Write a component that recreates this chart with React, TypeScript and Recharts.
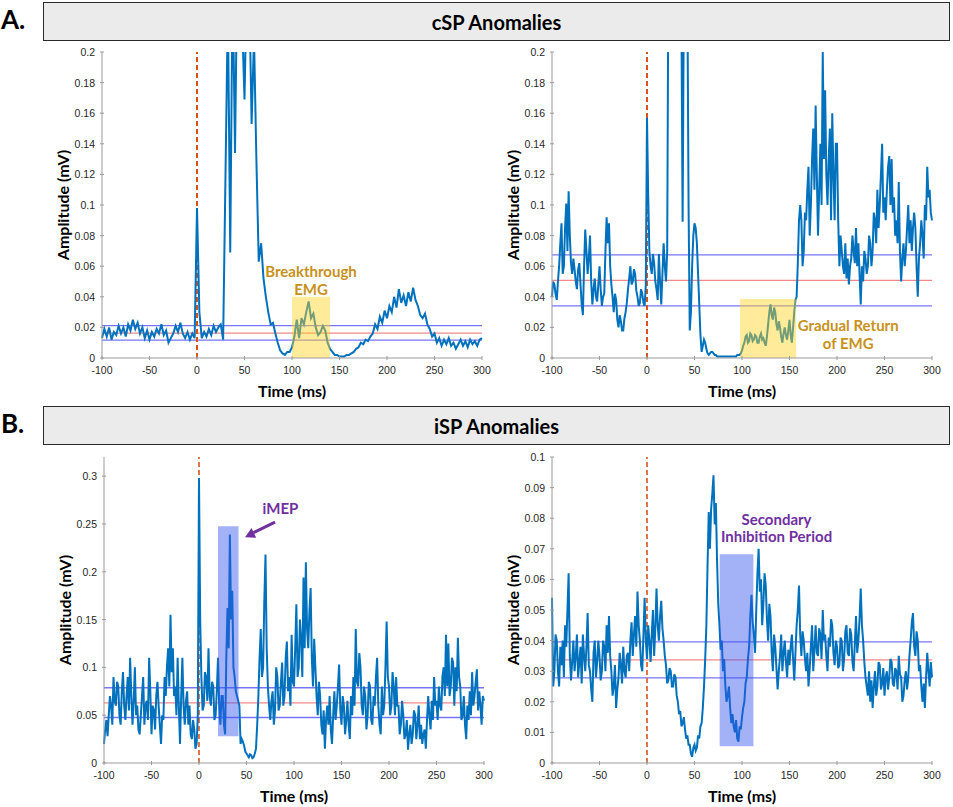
import { LineChart, Line, XAxis, YAxis, ReferenceLine, ReferenceArea, Label } from "recharts";

// time bases: 2.5 ms and 1.25 ms per sample
const timeCoarse = Array.from({ length: 161 }, (_, i) => -100 + i * 2.5);
const timeFine = Array.from({ length: 321 }, (_, i) => -100 + i * 1.25);
const timeTicks = [-100, -50, 0, 50, 100, 150, 200, 250, 300];

// A. cSP anomalies, left trace (breakthrough EMG), 2.5 ms steps
const cspBreakthrough = [
  0.013, 0.019, 0.014, 0.020, 0.012, 0.017, 0.015, 0.021, 0.016, 0.020,
  0.014, 0.022, 0.018, 0.025, 0.019, 0.023, 0.016, 0.020, 0.013, 0.018,
  0.012, 0.017, 0.014, 0.019, 0.016, 0.022, 0.015, 0.018, 0.010, 0.013,
  0.016, 0.021, 0.017, 0.023, 0.016, 0.013, 0.017, 0.012, 0.016, 0.013,
  0.098, 0.030, 0.013, 0.017, 0.014, 0.019, 0.015, 0.021, 0.017, 0.020,
  0.022, 0.012, 0.120, 0.230, 0.069, 0.250, 0.134, 0.260, 0.240, 0.220,
  0.169, 0.250, 0.240, 0.153, 0.210, 0.130, 0.063, 0.075, 0.052, 0.040,
  0.030, 0.022, 0.023, 0.016, 0.010, 0.005, 0.003, 0.002, 0.004, 0.004,
  0.007, 0.014, 0.025, 0.013, 0.026, 0.022, 0.030, 0.037, 0.026, 0.029,
  0.020, 0.015, 0.017, 0.021, 0.018, 0.010, 0.006, 0.004, 0.002, 0.002,
  0.001, 0.001, 0.001, 0.002, 0.002, 0.003, 0.004, 0.006, 0.007, 0.010,
  0.009, 0.012, 0.011, 0.014, 0.016, 0.022, 0.019, 0.027, 0.023, 0.031,
  0.026, 0.034, 0.030, 0.040, 0.033, 0.045, 0.036, 0.041, 0.034, 0.043,
  0.037, 0.046, 0.038, 0.034, 0.028, 0.026, 0.029, 0.022, 0.019, 0.014,
  0.016, 0.010, 0.013, 0.008, 0.012, 0.009, 0.013, 0.008, 0.010, 0.006,
  0.009, 0.012, 0.008, 0.011, 0.007, 0.012, 0.009, 0.011, 0.008, 0.012,
  0.013,
];

// A. cSP anomalies, right trace (gradual return), 1.25 ms steps
const cspGradual = [
  0.040, 0.050, 0.048, 0.042, 0.038, 0.050, 0.060, 0.075, 0.088, 0.055, 0.060, 0.085, 0.101, 0.070, 0.109, 0.080, 0.062, 0.055, 0.065, 0.058,
  0.050, 0.045, 0.058, 0.062, 0.048, 0.035, 0.028, 0.060, 0.084, 0.070, 0.055, 0.065, 0.080, 0.050, 0.035, 0.045, 0.052, 0.040, 0.037, 0.048,
  0.060, 0.045, 0.034, 0.040, 0.042, 0.070, 0.092, 0.075, 0.088, 0.060, 0.048, 0.040, 0.030, 0.042, 0.038, 0.025, 0.020, 0.028, 0.024, 0.018,
  0.018, 0.026, 0.030, 0.036, 0.045, 0.052, 0.060, 0.048, 0.050, 0.058, 0.055, 0.044, 0.040, 0.034, 0.036, 0.045, 0.042, 0.036, 0.034, 0.048,
  0.157, 0.107, 0.070, 0.060, 0.055, 0.068, 0.062, 0.050, 0.045, 0.038, 0.068, 0.050, 0.035, 0.055, 0.075, 0.060, 0.050, 0.070, 0.250, 0.260,
  0.260, 0.250, 0.250, 0.260, 0.260, 0.250, 0.250, 0.260, 0.240, 0.220, 0.089, 0.230, 0.250, 0.260, 0.240, 0.100, 0.018, 0.030, 0.060, 0.080,
  0.088, 0.085, 0.075, 0.055, 0.035, 0.015, 0.004, 0.008, 0.012, 0.010, 0.006, 0.003, 0.002, 0.003, 0.004, 0.004, 0.003, 0.002, 0.002, 0.001,
  0.001, 0.001, 0.001, 0.001, 0.001, 0.001, 0.001, 0.001, 0.001, 0.001, 0.001, 0.001, 0.001, 0.001, 0.001, 0.001, 0.002, 0.002, 0.002, 0.003,
  0.005, 0.008, 0.010, 0.014, 0.015, 0.010, 0.011, 0.016, 0.015, 0.011, 0.012, 0.015, 0.014, 0.010, 0.010, 0.014, 0.016, 0.012, 0.013, 0.010,
  0.008, 0.014, 0.022, 0.030, 0.035, 0.028, 0.025, 0.033, 0.030, 0.022, 0.018, 0.024, 0.020, 0.014, 0.010, 0.016, 0.020, 0.015, 0.012, 0.018,
  0.025, 0.015, 0.010, 0.020, 0.030, 0.038, 0.040, 0.062, 0.090, 0.100, 0.090, 0.060, 0.070, 0.095, 0.090, 0.110, 0.125, 0.080, 0.100, 0.130,
  0.150, 0.110, 0.165, 0.120, 0.080, 0.110, 0.140, 0.100, 0.200, 0.130, 0.175, 0.120, 0.100, 0.130, 0.150, 0.090, 0.160, 0.120, 0.090, 0.140,
  0.140, 0.090, 0.060, 0.080, 0.070, 0.060, 0.055, 0.075, 0.052, 0.065, 0.048, 0.060, 0.065, 0.080, 0.070, 0.062, 0.085, 0.060, 0.075, 0.055,
  0.035, 0.060, 0.050, 0.070, 0.065, 0.055, 0.060, 0.080, 0.075, 0.060, 0.070, 0.095, 0.090, 0.075, 0.110, 0.085, 0.100, 0.120, 0.140, 0.095,
  0.105, 0.090, 0.110, 0.125, 0.132, 0.100, 0.130, 0.095, 0.105, 0.080, 0.090, 0.075, 0.115, 0.070, 0.050, 0.065, 0.075, 0.060, 0.070, 0.085,
  0.100, 0.075, 0.090, 0.070, 0.085, 0.095, 0.085, 0.060, 0.040, 0.065, 0.075, 0.090, 0.080, 0.065, 0.100, 0.090, 0.125, 0.105, 0.110, 0.095,
  0.090,
];

// B. iSP anomalies, left trace (iMEP), 1.25 ms steps
const ispMep = [
  0.020, 0.035, 0.045, 0.028, 0.050, 0.070, 0.060, 0.040, 0.090, 0.065, 0.060, 0.085, 0.080, 0.050, 0.040, 0.075, 0.095, 0.060, 0.045, 0.070,
  0.090, 0.055, 0.110, 0.070, 0.040, 0.065, 0.100, 0.050, 0.060, 0.035, 0.030, 0.050, 0.070, 0.090, 0.040, 0.060, 0.065, 0.045, 0.110, 0.075,
  0.030, 0.060, 0.055, 0.035, 0.070, 0.085, 0.060, 0.040, 0.020, 0.050, 0.045, 0.090, 0.070, 0.100, 0.120, 0.080, 0.155, 0.095, 0.120, 0.070,
  0.080, 0.050, 0.110, 0.060, 0.020, 0.070, 0.110, 0.060, 0.040, 0.065, 0.075, 0.040, 0.060, 0.030, 0.025, 0.045, 0.035, 0.015, 0.020, 0.050,
  0.298, 0.150, 0.090, 0.055, 0.060, 0.095, 0.090, 0.065, 0.120, 0.070, 0.060, 0.085, 0.080, 0.045, 0.050, 0.075, 0.110, 0.060, 0.040, 0.070,
  0.070, 0.040, 0.030, 0.110, 0.162, 0.120, 0.239, 0.150, 0.180, 0.100, 0.090, 0.075, 0.070, 0.065, 0.060, 0.020, 0.025, 0.022, 0.018, 0.012,
  0.010, 0.008, 0.006, 0.009, 0.008, 0.005, 0.006, 0.010, 0.015, 0.040, 0.070, 0.110, 0.140, 0.090, 0.100, 0.170, 0.218, 0.120, 0.080, 0.060,
  0.045, 0.065, 0.075, 0.040, 0.055, 0.100, 0.090, 0.055, 0.060, 0.085, 0.105, 0.060, 0.070, 0.110, 0.127, 0.075, 0.090, 0.060, 0.134, 0.085,
  0.080, 0.120, 0.166, 0.090, 0.100, 0.150, 0.130, 0.090, 0.194, 0.120, 0.210, 0.140, 0.120, 0.160, 0.183, 0.110, 0.080, 0.130, 0.100, 0.070,
  0.050, 0.085, 0.070, 0.040, 0.030, 0.055, 0.015, 0.045, 0.060, 0.040, 0.070, 0.035, 0.020, 0.050, 0.075, 0.045, 0.060, 0.080, 0.103, 0.055,
  0.040, 0.070, 0.060, 0.030, 0.045, 0.065, 0.040, 0.025, 0.070, 0.050, 0.090, 0.060, 0.140, 0.085, 0.080, 0.115, 0.100, 0.060, 0.050, 0.080,
  0.070, 0.035, 0.050, 0.085, 0.080, 0.045, 0.040, 0.070, 0.060, 0.090, 0.110, 0.060, 0.040, 0.030, 0.080, 0.050, 0.060, 0.100, 0.148, 0.090,
  0.080, 0.050, 0.060, 0.095, 0.080, 0.050, 0.090, 0.060, 0.060, 0.030, 0.040, 0.065, 0.050, 0.025, 0.030, 0.045, 0.014, 0.030, 0.040, 0.020,
  0.030, 0.055, 0.050, 0.025, 0.040, 0.060, 0.025, 0.040, 0.020, 0.030, 0.035, 0.015, 0.045, 0.070, 0.050, 0.035, 0.065, 0.045, 0.090, 0.060,
  0.065, 0.045, 0.080, 0.060, 0.055, 0.090, 0.100, 0.070, 0.134, 0.080, 0.125, 0.070, 0.080, 0.110, 0.105, 0.060, 0.100, 0.075, 0.131, 0.090,
  0.080, 0.045, 0.050, 0.070, 0.040, 0.025, 0.060, 0.045, 0.075, 0.050, 0.095, 0.060, 0.070, 0.085, 0.098, 0.055, 0.075, 0.060, 0.040, 0.070,
  0.065,
];

// B. iSP anomalies, right trace (secondary inhibition), 1.25 ms steps
const ispSecondary = [
  0.054, 0.025, 0.030, 0.042, 0.040, 0.030, 0.025, 0.038, 0.032, 0.040, 0.028, 0.045, 0.038, 0.050, 0.062, 0.035, 0.027, 0.033, 0.040, 0.030,
  0.035, 0.042, 0.028, 0.033, 0.038, 0.026, 0.042, 0.035, 0.030, 0.038, 0.049, 0.032, 0.030, 0.024, 0.020, 0.036, 0.040, 0.028, 0.033, 0.040,
  0.035, 0.027, 0.030, 0.040, 0.038, 0.030, 0.045, 0.036, 0.048, 0.035, 0.030, 0.022, 0.025, 0.032, 0.018, 0.024, 0.028, 0.036, 0.032, 0.026,
  0.038, 0.030, 0.028, 0.035, 0.036, 0.030, 0.040, 0.046, 0.035, 0.042, 0.048, 0.038, 0.056, 0.045, 0.040, 0.032, 0.030, 0.042, 0.054, 0.040,
  0.034, 0.045, 0.040, 0.033, 0.042, 0.050, 0.035, 0.044, 0.057, 0.045, 0.040, 0.048, 0.053, 0.044, 0.040, 0.035, 0.032, 0.026, 0.027, 0.031,
  0.030, 0.025, 0.025, 0.029, 0.028, 0.022, 0.020, 0.016, 0.017, 0.012, 0.013, 0.015, 0.011, 0.008, 0.009, 0.006, 0.006, 0.003, 0.002, 0.005,
  0.006, 0.004, 0.005, 0.009, 0.008, 0.012, 0.013, 0.018, 0.025, 0.034, 0.045, 0.065, 0.082, 0.070, 0.083, 0.088, 0.094, 0.078, 0.085, 0.066,
  0.052, 0.045, 0.037, 0.040, 0.030, 0.034, 0.025, 0.020, 0.022, 0.025, 0.018, 0.013, 0.016, 0.012, 0.010, 0.014, 0.008, 0.007, 0.012, 0.011,
  0.015, 0.018, 0.020, 0.026, 0.028, 0.034, 0.038, 0.048, 0.055, 0.046, 0.042, 0.036, 0.050, 0.062, 0.070, 0.056, 0.060, 0.045, 0.052, 0.062,
  0.058, 0.047, 0.040, 0.052, 0.048, 0.036, 0.030, 0.042, 0.038, 0.031, 0.024, 0.030, 0.035, 0.042, 0.030, 0.036, 0.040, 0.033, 0.028, 0.037,
  0.032, 0.038, 0.042, 0.034, 0.027, 0.036, 0.045, 0.050, 0.058, 0.042, 0.035, 0.043, 0.040, 0.034, 0.030, 0.036, 0.025, 0.031, 0.038, 0.045,
  0.030, 0.037, 0.045, 0.036, 0.035, 0.044, 0.042, 0.034, 0.050, 0.040, 0.042, 0.035, 0.030, 0.041, 0.038, 0.047, 0.045, 0.036, 0.032, 0.040,
  0.038, 0.031, 0.032, 0.041, 0.040, 0.030, 0.034, 0.043, 0.045, 0.036, 0.035, 0.044, 0.042, 0.033, 0.030, 0.039, 0.048, 0.036, 0.040, 0.047,
  0.057, 0.045, 0.040, 0.033, 0.028, 0.025, 0.022, 0.030, 0.020, 0.027, 0.018, 0.025, 0.030, 0.022, 0.025, 0.033, 0.032, 0.024, 0.026, 0.031,
  0.022, 0.028, 0.030, 0.024, 0.028, 0.034, 0.033, 0.026, 0.025, 0.031, 0.030, 0.024, 0.035, 0.029, 0.028, 0.020, 0.022, 0.027, 0.030, 0.024,
  0.028, 0.035, 0.040, 0.046, 0.049, 0.038, 0.035, 0.043, 0.040, 0.030, 0.032, 0.025, 0.020, 0.026, 0.018, 0.028, 0.036, 0.030, 0.025, 0.033,
  0.028,
];

// baseline bands: upper, mean, lower
const cspBreakthroughBands = [0.0211, 0.0163, 0.0117];
const cspGradualBands = [0.0674, 0.0507, 0.0341];
const ispMepBands = [0.0787, 0.0629, 0.0476];
const ispSecondaryBands = [0.0396, 0.0337, 0.0278];

const cspTicks = [0, 0.02, 0.04, 0.06, 0.08, 0.1, 0.12, 0.14, 0.16, 0.18, 0.2];
const ispMepTicks = [0, 0.05, 0.1, 0.15, 0.2, 0.25, 0.3];
const ispSecondaryTicks = [0, 0.01, 0.02, 0.03, 0.04, 0.05, 0.06, 0.07, 0.08, 0.09, 0.1];

const AXIS = "#9b9b9b";
const TRACE = "#0072BD";
const BLUE_BAND = "#4848f0";
const RED_BAND = "#f06060";
const GOLD = "#C8911A";
const PURPLE = "#7030A0";
const TICK_LEN = 4;
const tickFont = { fontFamily: "'Liberation Sans', Arial, sans-serif", fontSize: 10.5, fill: "#262626" };
const boldFont = "Lato, 'Open Sans', sans-serif";

function BottomTick(props: any) {
  const { x, y, payload } = props;
  return (
    <g>
      <line x1={x} y1={y} x2={x} y2={y - TICK_LEN} stroke={AXIS} />
      <text x={x} y={y + 14} textAnchor="middle" {...tickFont}>{payload.value}</text>
    </g>
  );
}

function TopTick(props: any) {
  const { x, y } = props;
  return <line x1={x} y1={y} x2={x} y2={y + TICK_LEN} stroke={AXIS} />;
}

function LeftTick(props: any) {
  const { x, y, payload } = props;
  return (
    <g>
      <line x1={x} y1={y} x2={x + TICK_LEN} y2={y} stroke={AXIS} />
      <text x={x - 5} y={y + 4} textAnchor="end" {...tickFont}>{payload.value}</text>
    </g>
  );
}

function RightTick(props: any) {
  const { x, y } = props;
  return <line x1={x} y1={y} x2={x - TICK_LEN} y2={y} stroke={AXIS} />;
}

function timeLabel(props: any) {
  const vb = props.viewBox;
  return (
    <text x={vb.x + vb.width / 2} y={vb.y + 39} textAnchor="middle" fontFamily={boldFont} fontWeight={700} fontSize={16} fill="#000">
      Time (ms)
    </text>
  );
}

function ampLabel(props: any) {
  const vb = props.viewBox;
  const cx = vb.x + 13;
  const cy = vb.y + vb.height / 2;
  return (
    <text x={cx} y={cy} transform={`rotate(-90 ${cx} ${cy})`} textAnchor="middle" dominantBaseline="middle"
      fontFamily={boldFont} fontWeight={700} fontSize={16} fill="#000">
      Amplitude (mV)
    </text>
  );
}

const noteStyle = { fontFamily: boldFont, fontWeight: 700, fontSize: 15 };

function breakthroughNote(props: any) {
  const { x, y, width } = props.viewBox;
  const cx = x + width / 2;
  return (
    <text textAnchor="middle" fill={GOLD} style={noteStyle}>
      <tspan x={cx} y={y - 20}>Breakthrough</tspan>
      <tspan x={cx} y={y - 2}>EMG</tspan>
    </text>
  );
}

function gradualNote(props: any) {
  const { x, y, width, height } = props.viewBox;
  const cx = x + width + 52;
  const bottom = y + height;
  return (
    <text textAnchor="middle" fill={GOLD} style={noteStyle}>
      <tspan x={cx} y={bottom - 27}>Gradual Return</tspan>
      <tspan x={cx} y={bottom - 9}>of EMG</tspan>
    </text>
  );
}

function mepNote(props: any) {
  const { x, y, width } = props.viewBox;
  const r = x + width;
  return (
    <g>
      <text x={r + 42} y={y - 12} textAnchor="middle" fill={PURPLE} style={noteStyle}>iMEP</text>
      <line x1={r + 36.5} y1={y - 4} x2={r + 15} y2={y + 6.5} stroke={PURPLE} strokeWidth={3} />
      <polygon points={`${r + 6.5},${y + 11} ${r + 17.7},${y + 11.5} ${r + 13},${y + 1.8}`} fill={PURPLE} />
    </g>
  );
}

function secondaryNote(props: any) {
  const { x, y, width } = props.viewBox;
  const cx = x + width / 2 + 40;
  return (
    <text textAnchor="middle" fill={PURPLE} style={noteStyle}>
      <tspan x={cx} y={y - 29}>Secondary</tspan>
      <tspan x={cx} y={y - 12}>Inhibition Period</tspan>
    </text>
  );
}

type PanelProps = {
  left: number;
  top: number;
  times: number[];
  values: number[];
  yMax: number;
  yTicks: number[];
  bands: number[];
  area: { x1: number; x2: number; y1: number; y2: number };
  areaFill: string;
  areaOpacity: number;
  note: (props: any) => any;
  dashWidth: number;
};

function Panel({ left, top, times, values, yMax, yTicks, bands, area, areaFill, areaOpacity, note, dashWidth }: PanelProps) {
  const data = times.map((t, i) => ({ t, v: values[i] }));
  return (
    <div style={{ position: "absolute", left, top }}>
      <LineChart width={440} height={356} data={data} margin={{ top: 5, right: 10, bottom: 0, left: 0 }}>
        <XAxis dataKey="t" type="number" domain={[-100, 300]} ticks={timeTicks} interval={0} height={45}
          tickSize={0} tickLine={false} tick={BottomTick} stroke={AXIS}>
          <Label content={timeLabel} />
        </XAxis>
        <XAxis xAxisId="top" orientation="top" dataKey="t" type="number" domain={[-100, 300]} ticks={timeTicks}
          interval={0} height={0} tickSize={0} tickLine={false} tick={TopTick} stroke={AXIS} />
        <YAxis type="number" domain={[0, yMax]} ticks={yTicks} interval={0} allowDataOverflow width={50}
          tickSize={0} tickLine={false} tick={LeftTick} stroke={AXIS}>
          <Label content={ampLabel} />
        </YAxis>
        <YAxis yAxisId="right" orientation="right" type="number" domain={[0, yMax]} ticks={yTicks} interval={0}
          allowDataOverflow width={0} tickSize={0} tickLine={false} tick={RightTick} stroke={AXIS} />
        {bands.map((b, i) => (
          <ReferenceLine key={i} y={b} stroke={i === 1 ? RED_BAND : BLUE_BAND} strokeOpacity={0.75} strokeWidth={1.3} />
        ))}
        <ReferenceLine x={0} stroke="#D95319" strokeWidth={dashWidth} strokeDasharray="5 3" />
        <Line dataKey="v" type="linear" stroke={TRACE} strokeWidth={2} dot={false} isAnimationActive={false} />
        <ReferenceArea x1={area.x1} x2={area.x2} y1={area.y1} y2={area.y2} fill={areaFill} fillOpacity={areaOpacity}
          stroke="none" zIndex={450} label={<Label content={note} />} />
      </LineChart>
    </div>
  );
}

function Header({ top, letter, title }: { top: number; letter: string; title: string }) {
  return (
    <>
      <div style={{ position: "absolute", left: 1, top: top + 2, fontFamily: boldFont, fontWeight: 700, fontSize: 26, lineHeight: "30px" }}>
        {letter}
      </div>
      <div style={{
        position: "absolute", left: 43, top, width: 907, height: 39, boxSizing: "border-box",
        background: "#ebebeb", border: "1.5px solid #2a2a2a", display: "flex", alignItems: "center",
        justifyContent: "center", fontFamily: boldFont, fontWeight: 700, fontSize: 20,
      }}>
        {title}
      </div>
    </>
  );
}

export default function App() {
  return (
    <div style={{ position: "absolute", left: 0, top: 0, width: 953, height: 807, background: "#fff", overflow: "hidden" }}>
      <Header top={2} letter="A." title="cSP Anomalies" />
      <Header top={406} letter="B." title="iSP Anomalies" />
      <Panel left={52} top={47} times={timeCoarse} values={cspBreakthrough} yMax={0.2} yTicks={cspTicks} bands={cspBreakthroughBands}
        area={{ x1: 100, x2: 140, y1: 0, y2: 0.04 }} areaFill="#FFD21F" areaOpacity={0.45} note={breakthroughNote} dashWidth={2} />
      <Panel left={502} top={47} times={timeFine} values={cspGradual} yMax={0.2} yTicks={cspTicks} bands={cspGradualBands}
        area={{ x1: 98, x2: 157, y1: 0, y2: 0.0385 }} areaFill="#FFD21F" areaOpacity={0.45} note={gradualNote} dashWidth={2} />
      <Panel left={54} top={452} times={timeFine} values={ispMep} yMax={0.32} yTicks={ispMepTicks} bands={ispMepBands}
        area={{ x1: 20, x2: 41.6, y1: 0.028, y2: 0.2477 }} areaFill="#3355EE" areaOpacity={0.45} note={mepNote} dashWidth={1.6} />
      <Panel left={502} top={452} times={timeFine} values={ispSecondary} yMax={0.1} yTicks={ispSecondaryTicks} bands={ispSecondaryBands}
        area={{ x1: 76.5, x2: 112, y1: 0.0055, y2: 0.0682 }} areaFill="#3355EE" areaOpacity={0.45} note={secondaryNote} dashWidth={1.6} />
    </div>
  );
}
